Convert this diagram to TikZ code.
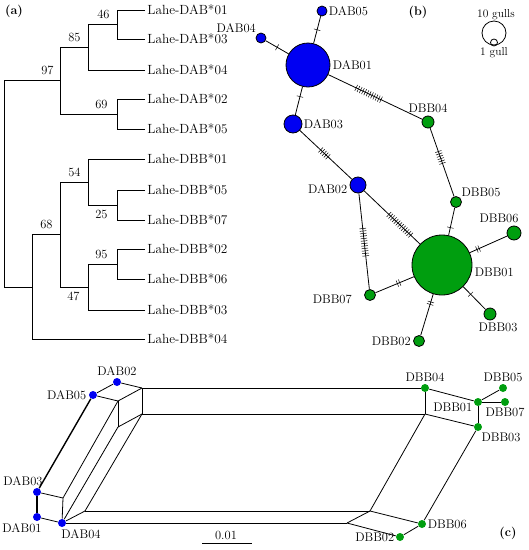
\documentclass[tikz,border=0pt]{standalone}
\usepackage{xcolor}
\usepackage{tikz}
\usetikzlibrary{decorations.markings}
\definecolor{dabblue}{HTML}{0000F2}
\definecolor{dbbgreen}{HTML}{009E0F}
\tikzset{every node/.append style={font=\fontsize{12.5}{14}\selectfont}}
\tikzset{
  leaf/.style={anchor=west,inner sep=2pt,font=\fontsize{13.3}{15}\selectfont},
  supp/.style={inner sep=1pt},
  panel/.style={font=\fontsize{12.5}{14}\selectfont\bfseries},
  hapa/.style={circle,draw,fill=dabblue,inner sep=0pt,minimum size=#1},
  hapb/.style={circle,draw,fill=dbbgreen,inner sep=0pt,minimum size=#1},
  dota/.style={circle,fill=dabblue,inner sep=0pt,minimum size=8pt},
  dotb/.style={circle,fill=dbbgreen,inner sep=0pt,minimum size=8pt},
  muts/.style 2 args={postaction={decorate,decoration={markings,
    mark=at position #1 with {\foreach \k in {1,...,#2}{
      \draw[line width=0.5pt] ({(\k-(#2+1)/2)*2.5pt},-3.3pt) -- ++(0pt,6.6pt);}}}}},
}

\begin{document}
\begin{tikzpicture}[x=1pt,y=-1pt,line width=0.8pt]
  \useasboundingbox (0,0) rectangle (529,550);

  % (a) tree
  \node[panel] (pa) at (14,11) {(a)};
  \coordinate (r) at (4,184);
  \coordinate (n97) at (60,80.5);
  \coordinate (n85) at (88,47);
  \coordinate (n46) at (117,24.5);
  \coordinate (n69) at (117,114);
  \coordinate (n68) at (32,287);
  \coordinate (n60) at (60,234.5);
  \coordinate (n54) at (88,182);
  \coordinate (n25) at (117,205);
  \coordinate (n47) at (88,287);
  \coordinate (n95) at (117,264);
  \node[leaf] (dab1) at (145,10) {Lahe-DAB*01};
  \node[leaf] (dab3) at (145,39) {Lahe-DAB*03};
  \node[leaf] (dab4) at (145,70) {Lahe-DAB*04};
  \node[leaf] (dab2) at (145,99) {Lahe-DAB*02};
  \node[leaf] (dab5) at (145,129) {Lahe-DAB*05};
  \node[leaf] (dbb1) at (145,159) {Lahe-DBB*01};
  \node[leaf] (dbb5) at (145,190) {Lahe-DBB*05};
  \node[leaf] (dbb7) at (145,220) {Lahe-DBB*07};
  \node[leaf] (dbb2) at (145,249) {Lahe-DBB*02};
  \node[leaf] (dbb6) at (145,279) {Lahe-DBB*06};
  \node[leaf] (dbb3) at (145,310) {Lahe-DBB*03};
  \node[leaf] (dbb4) at (145,339) {Lahe-DBB*04};
  \draw (r) |- (n97);
  \draw (r) |- (n68);
  \draw (n97) |- (n85);
  \draw (n97) |- (n69);
  \draw (n85) |- (n46);
  \draw (n85) |- (dab4.west);
  \draw (n46) |- (dab1.west);
  \draw (n46) |- (dab3.west);
  \draw (n69) |- (dab2.west);
  \draw (n69) |- (dab5.west);
  \draw (n68) |- (n60);
  \draw (n68) |- (dbb4.west);
  \draw (n60) |- (n54);
  \draw (n60) |- (n47);
  \draw (n54) |- (dbb1.west);
  \draw (n54) |- (n25);
  \draw (n25) |- (dbb5.west);
  \draw (n25) |- (dbb7.west);
  \draw (n47) |- (n95);
  \draw (n47) |- (dbb3.west);
  \draw (n95) |- (dbb2.west);
  \draw (n95) |- (dbb6.west);
  \node[supp,anchor=south east] (s46) at ([xshift=-6pt,yshift=4pt]n46) {46};
  \node[supp,anchor=south east] (s85) at ([xshift=-6pt,yshift=4pt]n85) {85};
  \node[supp,anchor=south east] (s97) at ([xshift=-5pt,yshift=4pt]n97) {97};
  \node[supp,anchor=south east] (s69) at ([xshift=-8pt,yshift=4pt]n69) {69};
  \node[supp,anchor=south east] (s54) at ([xshift=-6pt,yshift=4pt]n54) {54};
  \node[supp,anchor=north east] (s25) at ([xshift=-8pt,yshift=-4pt]n25) {25};
  \node[supp,anchor=south east] (s68) at ([xshift=-6pt,yshift=4pt]n60) {68};
  \node[supp,anchor=south east] (s95) at ([xshift=-8pt,yshift=4pt]n95) {95};
  \node[supp,anchor=north east] (s47) at ([xshift=-7pt,yshift=-4pt]n47) {47};

  % (b) network
  \node[panel] (pb) at (418,12) {(b)};
  \node[hapa=10pt,label={[inner sep=1pt]right:DAB05}] (bDAB05) at (322,11) {};
  \node[hapa=10pt,label={[inner sep=1pt]above left:DAB04}] (bDAB04) at (261,38) {};
  \node[hapa=44pt,label={[inner sep=2pt]right:DAB01}] (bDAB01) at (308,65) {};
  \node[hapa=18pt,label={[inner sep=1pt]right:DAB03}] (bDAB03) at (293,124) {};
  \node[hapa=16pt,label={[inner sep=2pt,yshift=-4pt]left:DAB02}] (bDAB02) at (358,185) {};
  \node[hapb=12pt,label={[inner sep=2pt]above:DBB04}] (bDBB04) at (428,122) {};
  \node[hapb=11pt,label={[inner sep=1pt]above right:DBB05}] (bDBB05) at (456,202) {};
  \node[hapb=14pt,label={[inner sep=2pt,xshift=-15pt]above:DBB06}] (bDBB06) at (514,233) {};
  \node[hapb=60pt,label={[inner sep=2pt,yshift=-7pt]right:DBB01}] (bDBB01) at (442,265) {};
  \node[hapb=11pt,label={[inner sep=2pt,xshift=-10pt,yshift=-4pt]left:DBB07}] (bDBB07) at (370,295) {};
  \node[hapb=12pt,label={[inner sep=2pt,xshift=8pt]below:DBB03}] (bDBB03) at (490,314) {};
  \node[hapb=11pt,label={[inner sep=2pt]left:DBB02}] (bDBB02) at (419,341) {};
  \draw[muts={0.5}{1}] (bDAB05) -- (bDAB01);
  \draw[muts={0.5}{1}] (bDAB04) -- (bDAB01);
  \draw[muts={0.35}{1}] (bDAB01) -- (bDAB03);
  \draw[muts={0.43}{12}] (bDAB01) -- (bDBB04);
  \draw[muts={0.47}{5}] (bDAB03) -- (bDAB02);
  \draw[muts={0.43}{6}] (bDBB04) -- (bDBB05);
  \draw[muts={0.64}{13}] (bDAB02) -- (bDBB01);
  \draw[muts={0.51}{12}] (bDAB02) -- (bDBB07);
  \draw[muts={0.72}{1}] (bDBB05) -- (bDBB01);
  \draw[muts={0.78}{2}] (bDBB06) -- (bDBB01);
  \draw[muts={0.6}{2}] (bDBB07) -- (bDBB01);
  \draw[muts={0.67}{1}] (bDBB03) -- (bDBB01);
  \draw[muts={0.78}{2}] (bDBB02) -- (bDBB01);
  % legend
  \node[circle,draw,inner sep=0pt,minimum size=24pt] (leg10) at (494,33) {};
  \node[circle,draw,inner sep=0pt,minimum size=7pt] (leg1) at (494,42.5) {};
  \node[font=\fontsize{11.5}{13}\selectfont] (t10) at (496,15) {10 gulls};
  \node[font=\fontsize{11.5}{13}\selectfont] (t1) at (494,53) {1 gull};

  % (c) splits graph
  \node[panel] (pc) at (508,533) {(c)};
  \coordinate (a1) at (142,388);
  \coordinate (b1) at (118,401);
  \coordinate (a2) at (142,414);
  \coordinate (b2) at (118,427);
  \coordinate (c1) at (63,498);
  \coordinate (d1) at (85,511);
  \coordinate (e1) at (425,414);
  \coordinate (f1) at (370,511);
  \coordinate (g1) at (347,523);
  \node[dota,label={[inner sep=1pt]above:DAB02}] (cDAB02) at (117,382) {};
  \node[dota,label={[inner sep=2pt]left:DAB05}] (cDAB05) at (93,395) {};
  \node[dota,label={[inner sep=1pt,xshift=-14pt]above:DAB03}] (cDAB03) at (37,492) {};
  \node[dota,label={[inner sep=2pt,xshift=-15pt]below:DAB01}] (cDAB01) at (37,517) {};
  \node[dota,label={[inner sep=2pt,xshift=19pt]below:DAB04}] (cDAB04) at (62,523) {};
  \node[dotb,label={[inner sep=1pt]above:DBB04}] (cDBB04) at (425,388) {};
  \node[dotb,label={[inner sep=1pt,yshift=-5pt]left:DBB01}] (cDBB01) at (478,402) {};
  \node[dotb,label={[inner sep=1pt]above:DBB05}] (cDBB05) at (503,388) {};
  \node[dotb,label={[inner sep=1pt]below:DBB07}] (cDBB07) at (505,402) {};
  \node[dotb,label={[inner sep=1pt,xshift=23pt]below:DBB03}] (cDBB03) at (478,427) {};
  \node[dotb,label={[inner sep=1pt]right:DBB06}] (cDBB06) at (422,524) {};
  \node[dotb,label={[inner sep=1pt]left:DBB02}] (cDBB02) at (400,537) {};
  \foreach \p/\q in {cDAB05/cDAB02,cDAB02/a1,cDAB05/b1,a1/b1,a1/a2,b1/b2,a2/b2,
      a1/cDBB04,a2/e1,b1/c1,cDAB03/c1,c1/cDAB04,cDAB01/cDAB04,b2/cDAB04,
      a2/d1,d1/f1,d1/cDAB04,cDAB04/g1,cDBB04/e1,cDBB04/cDBB01,e1/cDBB03,
      cDBB01/cDBB03,cDBB01/cDBB05,cDBB01/cDBB07,e1/f1,cDBB03/cDBB06,
      f1/cDBB06,f1/g1,g1/cDBB02,cDBB06/cDBB02}
    \draw (\p) -- (\q);
  \draw[line width=1.4pt] (cDAB05) -- (cDAB03);
  \draw[line width=1.4pt] (cDAB03) -- (cDAB01);
  % scale bar
  \coordinate (sb1) at (202,543);
  \coordinate (sb2) at (252,543);
  \draw (sb1) -- (sb2);
  \node (sbt) at (226,535) {0.01};
\end{tikzpicture}
\end{document}
